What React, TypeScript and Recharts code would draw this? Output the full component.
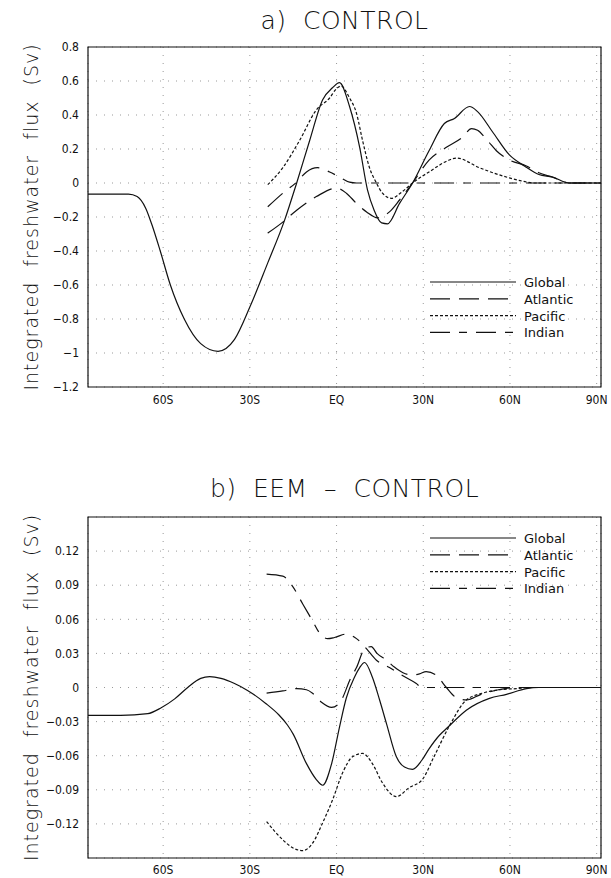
import { LineChart, Line, XAxis, YAxis, CartesianGrid, Legend, ReferenceArea } from 'recharts'

// latitude ticks shared by both panels
const latTicks = [-60, -30, 0, 30, 60, 90]
const latLabels = ['60S', '30S', 'EQ', '30N', '60N', '90N']
const latDomain = [-86, 91.5]

const ticksA = [-1.2, -1, -0.8, -0.6, -0.4, -0.2, 0, 0.2, 0.4, 0.6, 0.8]
const ticksB = [-0.12, -0.09, -0.06, -0.03, 0, 0.03, 0.06, 0.09, 0.12]

// a) CONTROL
const globalLatA = [-86, -72, -69, -66, -64, -61, -57.5, -52.7, -47, -41, -35.3, -30, -23.8, -18, -13.8, -9.3, -4.8, -1.4, 1, 4.5, 8, 10.7, 13, 15.6, 17.6, 21.8, 26.3, 32, 37.3, 40.8, 46, 48.8, 54, 59.8, 65, 70, 74.7, 80.5, 91.5]
const globalA = [-0.065, -0.065, -0.08, -0.15, -0.24, -0.4, -0.6, -0.8, -0.945, -0.99, -0.92, -0.73, -0.47, -0.22, 0, 0.25, 0.49, 0.56, 0.59, 0.45, 0.21, -0.04, -0.16, -0.235, -0.24, -0.12, 0, 0.19, 0.35, 0.38, 0.45, 0.42, 0.3, 0.165, 0.1, 0.05, 0.035, 0, 0]
const atlanticLatA = [-23.8, -18.6, -13.8, -7, 0, 3.4, 6.9, 10.4, 14.2, 18.3, 21.8, 26.3, 32, 38, 43.6, 46.7, 48.8, 52.2, 55.3, 59.8, 65.7, 70, 74.7, 80.5, 91.5]
const atlanticA = [-0.295, -0.23, -0.16, -0.08, -0.03, -0.06, -0.12, -0.17, -0.205, -0.17, -0.1, 0, 0.135, 0.21, 0.27, 0.32, 0.31, 0.25, 0.19, 0.135, 0.1, 0.06, 0.035, 0, 0]
const pacificLatA = [-23.8, -18.6, -12.8, -7, -2.4, 0, 1.6, 4.5, 6.9, 9, 11.4, 13.8, 15.9, 19, 22.8, 26.3, 32, 39, 41.5, 49.4, 59.8, 65.7, 68, 91.5]
const pacificA = [-0.01, 0.09, 0.25, 0.43, 0.5, 0.555, 0.57, 0.5, 0.41, 0.25, 0.09, 0, -0.06, -0.09, -0.05, 0, 0.065, 0.135, 0.147, 0.09, 0.03, 0.006, 0, 0]
const indianLatA = [-23.8, -18.6, -13.8, -10.4, -6.6, -2.4, 1, 4.5, 6.9, 91.5]
const indianA = [-0.14, -0.06, 0.005, 0.065, 0.09, 0.065, 0.035, 0.005, 0, 0]

// b) EEM - CONTROL
const globalLatB = [-86, -74.7, -65.3, -60.8, -56, -51.5, -47, -43.9, -40, -35.3, -30.8, -24.5, -20, -17, -15, -10.4, -7, -4.8, -1.7, 1, 3.4, 6.2, 8, 9.7, 12.4, 14.9, 17.3, 20.7, 23.5, 26.3, 29.5, 32, 35.6, 38.5, 44.9, 52.9, 58.8, 65.7, 70, 91.5]
const globalB = [-0.0245, -0.0245, -0.023, -0.018, -0.01, 0, 0.008, 0.0095, 0.008, 0.0035, -0.0026, -0.014, -0.024, -0.033, -0.041, -0.067, -0.081, -0.086, -0.067, -0.035, -0.009, 0.009, 0.0175, 0.022, 0.009, -0.011, -0.032, -0.061, -0.07, -0.072, -0.064, -0.054, -0.042, -0.035, -0.02, -0.0096, -0.006, -0.001, 0, 0]
const atlanticLatB = [-24.2, -18.6, -13.8, -10.4, -8.3, -5.2, -1.7, 0.5, 2.1, 4.5, 6.9, 9.7, 12, 14, 17.3, 20, 23, 26, 28.7, 31, 34.6, 38, 41.5, 45, 50, 56, 62, 91.5]
const atlanticB = [-0.005, -0.003, -0.001, -0.002, -0.005, -0.013, -0.0175, -0.015, -0.009, 0.006, 0.0175, 0.034, 0.036, 0.03, 0.024, 0.018, 0.013, 0.011, 0.012, 0.014, 0.0105, 0, -0.009, -0.011, -0.006, -0.002, 0, 0]
const pacificLatB = [-24.2, -18.6, -15.2, -11.7, -8.3, -4.8, -1.4, 2.1, 5.5, 9, 12.4, 15.9, 20.7, 25.2, 29.7, 33.5, 39, 44.9, 50.5, 56.3, 62.2, 68, 91.5]
const pacificB = [-0.118, -0.134, -0.141, -0.1435, -0.137, -0.119, -0.099, -0.075, -0.061, -0.058, -0.067, -0.084, -0.096, -0.088, -0.081, -0.062, -0.034, -0.011, -0.005, -0.002, -0.001, 0, 0]
const indianLatB = [-24.2, -18.6, -15.2, -11.7, -8.3, -5.9, -3.1, -0.7, 3.4, 6.9, 10.4, 13.8, 18.3, 22.8, 27.6, 29.5, 91.5]
const indianB = [0.0998, 0.098, 0.089, 0.0735, 0.0586, 0.048, 0.043, 0.044, 0.047, 0.043, 0.034, 0.024, 0.0175, 0.0105, 0.0035, 0, 0]

const names = ['Global', 'Atlantic', 'Pacific', 'Indian']
const dashes = [undefined, '20 9', '3 2', '20 9 8 9']

const zip = (lat: number[], v: number[]) => lat.map((x, i) => ({ lat: x, v: v[i] }))

const INK = '#111'
const tickFont = { fontSize: 12, fill: INK, fontFamily: "'DejaVu Sans Condensed', 'Liberation Sans Narrow', sans-serif" }

function LegendBox() {
  return (
    <svg width={150} height={70}>
      {names.map((n, i) => (
        <g key={n}>
          <line x1={2} x2={88} y1={8 + i * 16.8} y2={8 + i * 16.8} stroke={INK} strokeWidth={1.2} strokeDasharray={dashes[i]} />
          <text x={96} y={8 + i * 16.8 + 5} fontSize={13} fill={INK} fontFamily="'DejaVu Sans', sans-serif">{n}</text>
        </g>
      ))}
    </svg>
  )
}

interface PanelProps {
  top: number
  height: number
  marginTop: number
  xAxisHeight: number
  tickMargin: number
  yTicks: number[]
  yDomain: number[]
  fmt: (v: number) => string
  series: { lat: number; v: number }[][]
  legendTop: number
  title: string
  titleTop: number
}

function Panel(p: PanelProps) {
  return (
    <div style={{ position: 'absolute', left: 0, top: p.top, width: 611, height: p.height }}>
      <div style={{ position: 'absolute', left: 88, width: 513, top: p.titleTop, textAlign: 'center', fontFamily: "'DejaVu Sans', sans-serif", fontWeight: 200, fontSize: 25, letterSpacing: 0.5, wordSpacing: 8, whiteSpace: 'pre', color: INK, lineHeight: '30px' }}>
        {p.title}
      </div>
      <LineChart width={611} height={p.height} margin={{ top: p.marginTop, right: 10, bottom: 0, left: 0 }}>
        <CartesianGrid stroke="#999" strokeDasharray="1 7" />
        <XAxis type="number" dataKey="lat" domain={latDomain} ticks={latTicks} allowDataOverflow
          tickFormatter={(v: number) => latLabels[latTicks.indexOf(v)]} height={p.xAxisHeight}
          tickLine={false} axisLine={false} tickSize={0} tickMargin={p.tickMargin} tick={tickFont} interval={0} />
        <YAxis type="number" domain={p.yDomain} ticks={p.yTicks} width={88} allowDataOverflow
          tickFormatter={p.fmt} tickLine={false} axisLine={false} tickSize={0} tickMargin={9} tick={tickFont} interval={0}
          label={{ value: 'Integrated freshwater flux (Sv)', angle: -90, position: 'insideLeft', offset: 31,
            style: { textAnchor: 'middle', fontSize: 19, fill: INK, fontFamily: "'DejaVu Sans', sans-serif", fontWeight: 200, letterSpacing: 1, wordSpacing: 8 } }} />
        <ReferenceArea x1={latDomain[0]} x2={latDomain[1]} y1={p.yDomain[0]} y2={p.yDomain[1]} fill="none" stroke={INK} strokeWidth={1.2} />
        {p.series.map((d, i) => (
          <Line key={names[i]} data={d} dataKey="v" name={names[i]} type="monotone" stroke={INK} strokeWidth={1.2}
            strokeDasharray={dashes[i]} dot={false} activeDot={false} isAnimationActive={false} />
        ))}
        <Legend layout="vertical" align="center" verticalAlign="middle" content={() => <LegendBox />}
          wrapperStyle={{ left: 428, top: p.legendTop, width: 150, height: 70 }} />
      </LineChart>
    </div>
  )
}

const fmtA = (v: number) => (Math.abs(v) < 1e-9 ? '0' : String(Math.round(v * 10) / 10).replace('-', '\u2212'))
const fmtB = (v: number) => (Math.abs(v) < 1e-9 ? '0' : (Math.round(v * 100) / 100).toFixed(2).replace('-', '\u2212'))

export default function App() {
  return (
    <div style={{ position: 'absolute', left: 0, top: 0, width: 611, height: 878, background: '#fff' }}>
      <Panel top={0} height={420} marginTop={47} xAxisHeight={33} tickMargin={8} yTicks={ticksA} yDomain={[-1.2, 0.8]} fmt={fmtA}
        series={[zip(globalLatA, globalA), zip(atlanticLatA, atlanticA), zip(pacificLatA, pacificA), zip(indianLatA, indianA)]}
        legendTop={274} title="a) CONTROL" titleTop={6} />
      <Panel top={440} height={438} marginTop={77} xAxisHeight={20} tickMargin={7} yTicks={ticksB} yDomain={[-0.15, 0.15]} fmt={fmtB}
        series={[zip(globalLatB, globalB), zip(atlanticLatB, atlanticB), zip(pacificLatB, pacificB), zip(indianLatB, indianB)]}
        legendTop={90} title="b) EEM – CONTROL" titleTop={34} />
    </div>
  )
}
